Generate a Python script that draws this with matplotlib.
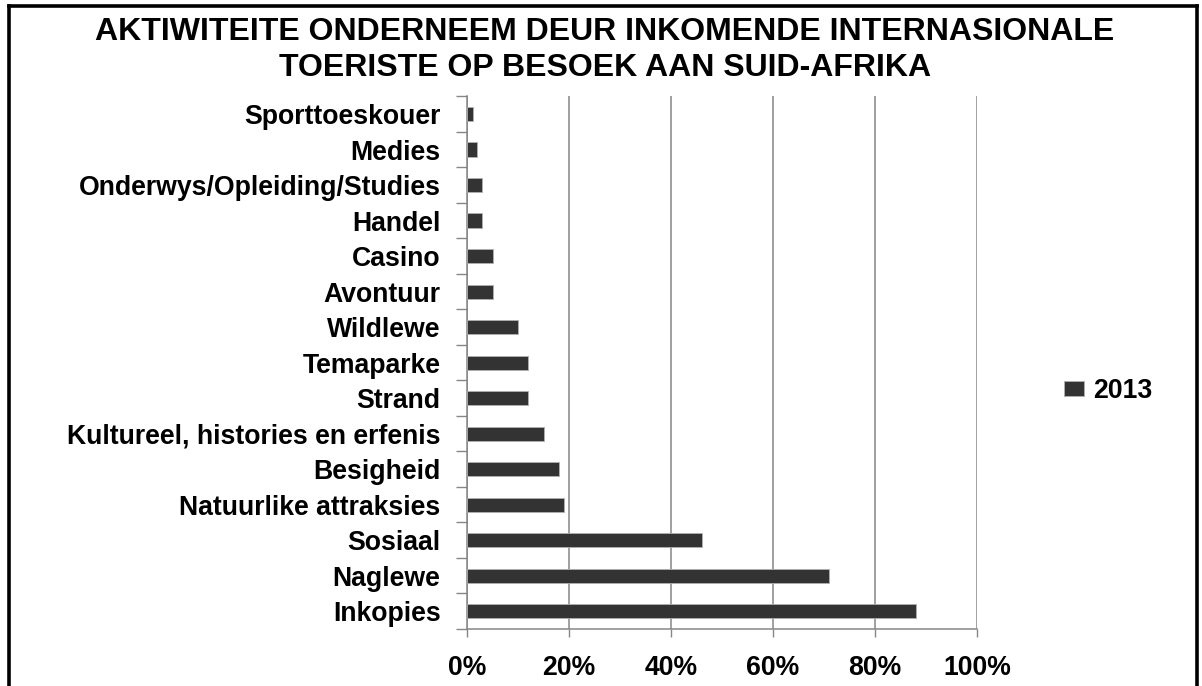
import matplotlib
matplotlib.use("Agg")
import matplotlib.pyplot as plt
from matplotlib.lines import Line2D
from matplotlib.ticker import FuncFormatter

plt.rcParams['font.family'] = ['Liberation Sans', 'DejaVu Sans']
plt.rcParams['font.weight'] = 'bold'

title = "AKTIWITEITE ONDERNEEM DEUR INKOMENDE INTERNASIONALE\nTOERISTE OP BESOEK AAN SUID-AFRIKA"
categories = ["Inkopies", "Naglewe", "Sosiaal", "Natuurlike attraksies", "Besigheid",
              "Kultureel, histories en erfenis", "Strand", "Temaparke", "Wildlewe",
              "Avontuur", "Casino", "Handel", "Onderwys/Opleiding/Studies", "Medies",
              "Sporttoeskouer"]
values_2013 = [0.88, 0.71, 0.46, 0.19, 0.18, 0.15, 0.12, 0.12, 0.10, 0.05, 0.05,
               0.03, 0.03, 0.02, 0.012]
series_name = "2013"
x_ticks = [0, 0.2, 0.4, 0.6, 0.8, 1.0]

fig = plt.figure(figsize=(12.02, 6.86), dpi=100)
ax = fig.add_axes([467/1202, 1 - 629/686, (977-467)/1202, (629-96.3)/686])

pos = list(range(len(categories)))
ax.barh(pos, values_2013, height=0.4, color='#333333', edgecolor='#b0b0b0',
        linewidth=0.6, label=series_name, zorder=3)

ax.set_xlim(0, 1.0)
ax.set_ylim(-0.5, len(categories) - 0.5)
ax.set_xticks(x_ticks)
ax.xaxis.set_major_formatter(FuncFormatter(lambda v, p: f"{v*100:.0f}%"))
ax.set_yticks(pos)
ax.set_yticklabels(categories)
ax.set_yticks([p - 0.5 for p in pos] + [len(categories) - 0.5], minor=True)

ax.tick_params(axis='y', which='major', length=0, pad=19, labelsize=19.2)
ax.tick_params(axis='y', which='minor', length=8, width=1, color='#868686')
ax.tick_params(axis='x', which='major', length=6, width=1, color='#868686',
               pad=13, labelsize=19.2)

ax.grid(axis='x', color='#868686', linewidth=1.1, zorder=0)
for s in ['top', 'right']:
    ax.spines[s].set_visible(False)
for s in ['left', 'bottom']:
    ax.spines[s].set_color('#868686')
    ax.spines[s].set_linewidth(1.1)

fig.text(605/1202, 1 - 50/686, title, ha='center', va='center', fontsize=23,
         fontweight='bold', linespacing=1.28)

leg = ax.legend(loc='center left', bbox_to_anchor=(1064/1202, 1 - 391/686),
                bbox_transform=fig.transFigure, frameon=False, fontsize=19.2,
                handlelength=0.75, handleheight=0.52, handletextpad=0.33,
                borderpad=0, borderaxespad=0)

# frame around figure (open at bottom)
lw = 2.6
fig.add_artist(Line2D([9.3/1202, 9.3/1202], [0, 1 - 6.3/686], color='black', lw=lw,
                      transform=fig.transFigure, solid_capstyle='projecting'))
fig.add_artist(Line2D([9.3/1202, 1197/1202], [1 - 6.3/686, 1 - 6.3/686], color='black', lw=lw,
                      transform=fig.transFigure, solid_capstyle='projecting'))
fig.add_artist(Line2D([1197/1202, 1197/1202], [0, 1 - 6.3/686], color='black', lw=lw,
                      transform=fig.transFigure, solid_capstyle='projecting'))

fig.savefig("out.png", dpi=100, facecolor='white')
